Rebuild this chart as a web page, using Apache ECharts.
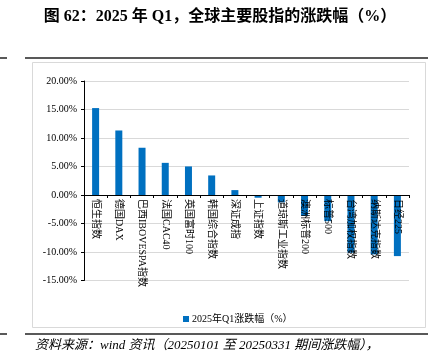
<!DOCTYPE html>
<html>
<head>
<meta charset="utf-8">
<script src="https://cdn.jsdelivr.net/npm/echarts@6/dist/echarts.min.js"></script>
<style>
html,body{margin:0;padding:0;background:#fff;}
#c{width:440px;height:356px;}
</style>
</head>
<body>
<div id="c"></div>
<script>
const categories = ['恒生指数','德国DAX','巴西IBOVESPA指数','法国CAC40','英国富时100','韩国综合指数','深证成指','上证指数','道琼斯工业指数','澳洲标普200','标普500','台湾加权指数','纳斯达克指数','日经225'];
const values = [15.25, 11.32, 8.29, 5.64, 5.01, 3.43, 0.86, -0.48, -1.28, -3.67, -4.59, -10.12, -10.42, -10.72];
const seriesName = '2025年Q1涨跌幅（%）';
const yTicks = {min: -15, max: 20, interval: 5};
const titleText = '图 62：2025 年 Q1，全球主要股指的涨跌幅（%）';
const sourceText = '资料来源：wind 资讯（20250101 至 20250331 期间涨跌幅），';

const FONT = "'Liberation Serif', 'Noto Sans CJK SC', serif";
const gridTop = 81, gridBottomY = 280.5;
// distance from grid bottom to the zero line, derived from the y scale
const zeroOffset = (gridBottomY - gridTop) * (0 - yTicks.min) / (yTicks.max - yTicks.min);

const chart = echarts.init(document.getElementById('c'), null, {renderer: 'canvas'});
chart.setOption({
  animation: false,
  backgroundColor: '#fff',
  graphic: [
    {type: 'text', left: 'center', top: 9, style: {text: titleText, font: "bold 16px 'Liberation Serif', 'Noto Sans CJK SC', serif", fill: '#000'}},
    {type: 'line', shape: {x1: 25, y1: 58, x2: 428, y2: 58}, style: {stroke: '#595959', lineWidth: 2}},
    {type: 'line', shape: {x1: 0, y1: 58, x2: 7, y2: 58}, style: {stroke: '#595959', lineWidth: 2}},
    {type: 'rect', z: -10, shape: {x: 32.5, y: 62.5, width: 393, height: 265}, style: {stroke: '#d9d9d9', fill: '#fff', lineWidth: 1}},
    {type: 'line', shape: {x1: 25, y1: 334, x2: 428, y2: 334}, style: {stroke: '#595959', lineWidth: 2}},
    {type: 'line', shape: {x1: 0, y1: 334, x2: 7, y2: 334}, style: {stroke: '#595959', lineWidth: 2}},
    {type: 'text', left: 35, top: 339, style: {text: sourceText, font: "italic 13px 'Liberation Serif', 'Noto Sans CJK SC', serif", fill: '#000'}}
  ],
  legend: {
    data: [seriesName],
    left: 178, top: 309,
    itemWidth: 6, itemHeight: 6, itemGap: 4,
    icon: 'rect',
    textStyle: {fontSize: 10, fontFamily: FONT, color: '#000', padding: [0,0,0,-2]}
  },
  grid: {left: 84, right: 31, top: gridTop, bottom: 356 - gridBottomY, containLabel: false},
  xAxis: {
    type: 'category',
    data: categories,
    position: 'bottom',
    offset: -zeroOffset,
    z: 10,
    axisLine: {onZero: false, lineStyle: {color: '#000', width: 1}},
    axisTick: {show: true, alignWithLabel: false, length: 3, lineStyle: {color: '#000'}},
    axisLabel: {rotate: -90, interval: 0, margin: 4, fontSize: 10, fontFamily: FONT, color: '#000'},
    splitLine: {show: false}
  },
  yAxis: {
    type: 'value',
    min: yTicks.min, max: yTicks.max, interval: yTicks.interval,
    axisLine: {show: true, lineStyle: {color: '#000', width: 1}},
    axisTick: {show: true, length: 3, lineStyle: {color: '#000'}},
    axisLabel: {formatter: v => v.toFixed(2) + '%', fontSize: 10, fontFamily: FONT, color: '#000', margin: 7},
    splitLine: {show: true, lineStyle: {color: '#d9d9d9', width: 1}}
  },
  series: [{
    name: seriesName,
    type: 'bar',
    data: values,
    barWidth: 7,
    itemStyle: {color: '#0070c0'}
  }]
});
</script>
</body>
</html>
